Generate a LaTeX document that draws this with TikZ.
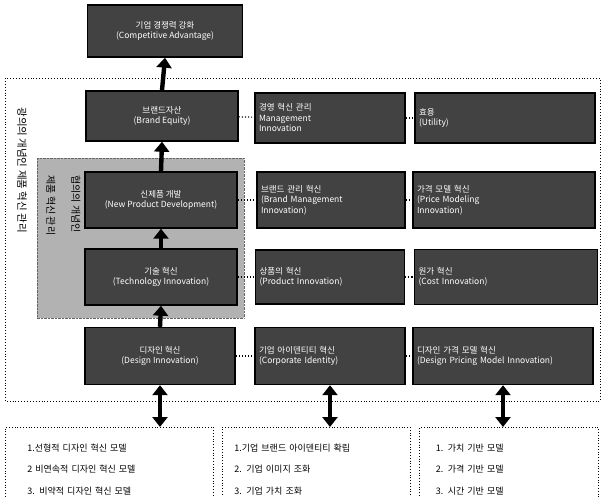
\documentclass[tikz,border=0pt]{standalone}
\usepackage{fontspec}
\setmainfont{Liberation Sans}
\newfontfamily\kr{Noto Sans CJK KR}
\usetikzlibrary{arrows.meta}

\begin{document}
\begin{tikzpicture}[x=1pt,y=-1pt]
    \tikzstyle{stage} = [draw=black, line width=1.4pt, fill=black!74, text=white, font=\kr\fontsize{8.5}{10.5}\selectfont, minimum height=52pt, inner sep=3pt]
    \tikzstyle{listbox} = [draw=black, dotted, line width=0.8pt, font=\kr\fontsize{9}{21.5}\selectfont, align=left, anchor=north west, inner sep=0pt, minimum height=84pt]
    \tikzstyle{up} = [line width=4.4pt, -{Triangle[length=10pt,width=15pt]}]
    \tikzstyle{both} = [line width=4.4pt, {Triangle[length=10pt,width=15pt]}-{Triangle[length=10pt,width=15pt]}]
    \tikzstyle{link} = [dotted, line width=1.1pt]
    \useasboundingbox (0,0) rectangle (602,496);

    % broad and narrow frames
    \draw[dotted, line width=0.9pt] (5,78) rectangle (600,401);
    \fill[black!30] (37,158) rectangle (244,318);
    \draw[densely dotted, black!60] (37,158) rectangle (244,318);
    \node[rotate=-90, font=\kr\fontsize{10.5}{12}\selectfont] (wide) at (22,170) {광의의 개념인 제품 혁신 관리};
    \node[rotate=-90, anchor=north west, align=left, font=\kr\fontsize{10}{25}\selectfont] (narrow) at (84,172) {협의의 개념인\\제품 혁신 관리};

    % left column
    \node[stage, minimum width=155pt, align=center] (top) at (165,31) {기업 경쟁력 강화\\(Competitive Advantage)};
    \node[stage, minimum width=152pt, align=center, minimum height=50pt] (l1) at (162,116) {브랜드자산\\(Brand Equity)};
    \node[stage, minimum width=152pt, align=center, minimum height=56pt] (l2) at (161,200) {신제품 개발\\(New Product Development)};
    \node[stage, minimum width=152pt, align=center, minimum height=56pt] (l3) at (161,277) {기술 혁신\\(Technology Innovation)};
    \node[stage, minimum width=150pt, align=center, minimum height=57pt] (l4) at (160,356) {디자인 혁신\\(Design Innovation)};

    % middle column
    \node[stage, minimum width=150pt, text width=142pt, align=left, minimum height=50pt] (m1) at (330,118) {경영 혁신 관리\\Management\\Innovation};
    \node[stage, minimum width=148pt, text width=140pt, align=left, minimum height=56pt] (m2) at (331,200) {브랜드 관리 혁신\\(Brand Management\\Innovation)};
    \node[stage, minimum width=149pt, text width=141pt, align=left, minimum height=54pt] (m3) at (330,277) {상품의 혁신\\(Product Innovation)};
    \node[stage, minimum width=150pt, text width=142pt, align=left, minimum height=57pt] (m4) at (330,356) {기업 아이덴티티 혁신\\(Corporate Identity)};

    % right column
    \node[stage, minimum width=180pt, text width=172pt, align=left, minimum height=50pt] (r1) at (505,118) {효용\\(Utility)};
    \node[stage, minimum width=182pt, text width=174pt, align=left, minimum height=56pt] (r2) at (504,200) {가격 모델 혁신\\(Price Modeling\\Innovation)};
    \node[stage, minimum width=183pt, text width=175pt, align=left, minimum height=55pt] (r3) at (506,277) {원가 혁신\\(Cost Innovation)};
    \node[stage, minimum width=180pt, text width=172pt, align=left, minimum height=57pt] (r4) at (503,356) {디자인 가격 모델 혁신\\(Design Pricing Model Innovation)};

    % model lists
    \node[listbox, minimum width=208pt, text width=192pt] (list1) at (5,427) {\hspace{14pt}\textit{1.}선형적 디자인 혁신 모델\\\hspace{14pt}\textit{2} 비연속적 디자인 혁신 모델\\\hspace{14pt}\textit{3.} 비약적 디자인 혁신 모델};
    \node[listbox, minimum width=188pt, text width=180pt] (list2) at (222,427) {\hspace{8pt}\textit{1.}기업 브랜드 아이덴티티 확립\\\hspace{8pt}\textit{2.} 기업 이미지 조화\\\hspace{8pt}\textit{3.} 기업 가치 조화};
    \node[listbox, minimum width=179pt, text width=170pt] (list3) at (419,427) {\hspace{12pt}\textit{1.} 가치 기반 모델\\\hspace{12pt}\textit{2.} 가격 기반 모델\\\hspace{12pt}\textit{3.} 시간 기반 모델};

    % connectors
    \foreach \r in {1,...,4} {
        \draw[link] (l\r) -- (m\r);
        \draw[link] (m\r) -- (r\r);
    }
    \draw[up] (l1.north) -- (top.south);
    \draw[up] (l2.north) -- (l1.south);
    \draw[up] (l3.north) -- (l2.south);
    \draw[up] (l4.north) -- (l3.south);
    \draw[both] (l4.south) -- (list1.north -| l4.south);
    \draw[both] (m4.south) -- (list2.north -| m4.south);
    \draw[both] (r4.south) -- (list3.north -| r4.south);
\end{tikzpicture}
\end{document}
